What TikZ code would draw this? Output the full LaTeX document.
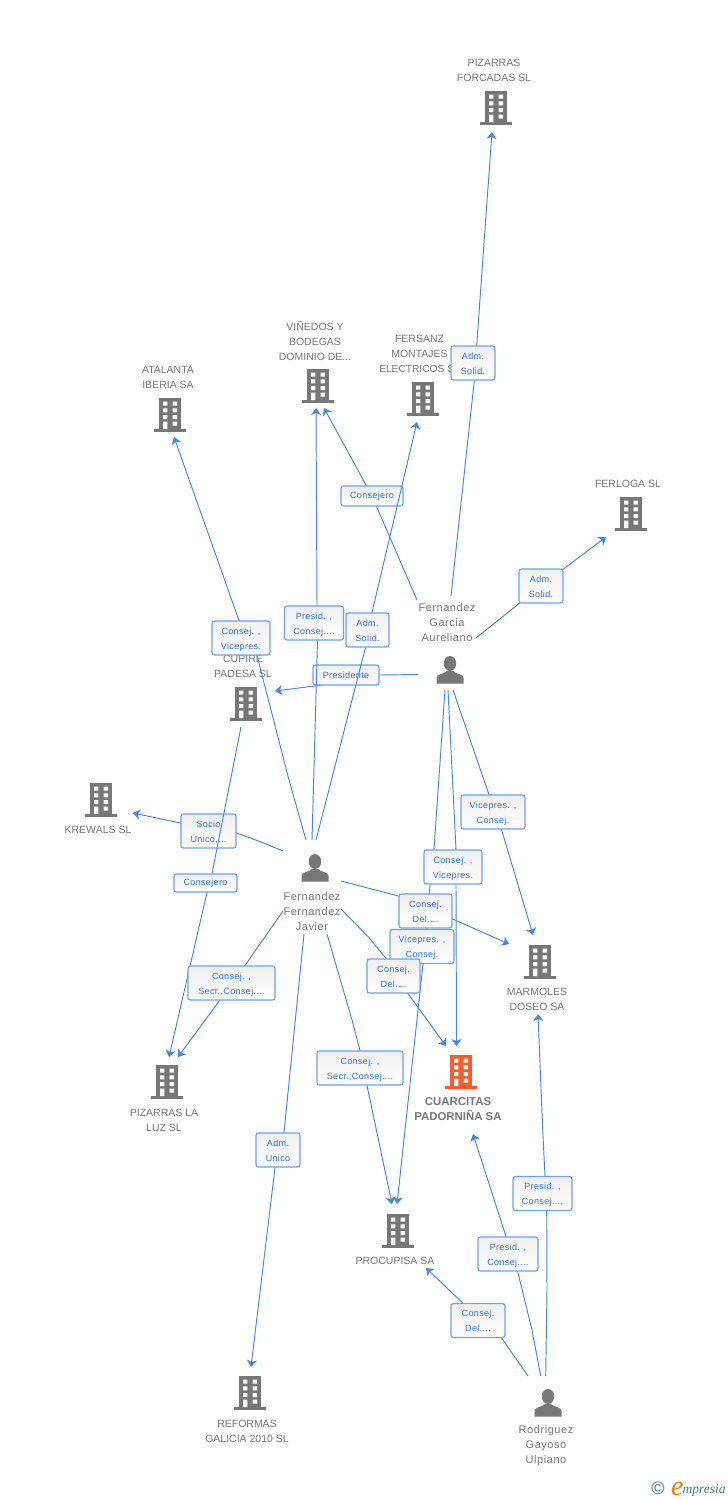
\documentclass[tikz,border=0pt]{standalone}
\usepackage{fontspec}
\setmainfont{Liberation Sans}
\newfontfamily\boxfont[LetterSpace=4]{Liberation Sans}
\newfontfamily\persfont[LetterSpace=5]{Liberation Sans}
\newfontfamily\logofont{Liberation Serif}
\usetikzlibrary{arrows.meta,backgrounds}
\pgfdeclarelayer{boxlow}
\pgfdeclarelayer{edgehigh}
\pgfsetlayers{background,boxlow,edgehigh,main}
\definecolor{linkc}{HTML}{4787E3}
\definecolor{boxline}{HTML}{6FA0E8}
\definecolor{boxtext}{HTML}{2F74D8}
\definecolor{greyc}{HTML}{777777}
\definecolor{hotc}{HTML}{FF5A2B}
\definecolor{logoc}{HTML}{3F7F96}
\definecolor{logoe}{HTML}{F07A10}
\tikzset{
  x=1pt,y=-1pt,
  link/.style={draw=linkc,line width=0.95pt,line join=round,-{Stealth[length=7pt,width=10pt,inset=2pt]}},
  linkbox/.style={draw=boxline,line width=1.1pt,rounded corners=2.5pt,top color=black!6,bottom color=white,
    align=center,inner sep=0pt,text=boxtext,font=\boxfont\fontsize{9}{15}\selectfont},
  two/.style={minimum height=34pt},
  one/.style={minimum height=20pt},
  entlabel/.style={align=center,inner sep=0pt,text=greyc,font=\fontsize{10.5}{15}\selectfont},
  perlabel/.style={align=center,inner sep=0pt,text=greyc,font=\persfont\fontsize{11}{15}\selectfont},
  hotlabel/.style={align=center,inner sep=0pt,text=greyc,font=\bfseries\fontsize{11.4}{15}\selectfont},
  iconbox/.style={inner sep=0pt,minimum width=32pt,minimum height=34pt},
  pics/bld/.style={code={
    \fill[#1] (-11,-17) rectangle (11,15);
    \fill[#1] (-16,14) rectangle (16,17);
    \fill[white] (-7,-13.3) rectangle (-2.7,-9.3) (2.5,-13.3) rectangle (7,-9.3);
    \fill[white] (-7,-6.7) rectangle (-2.7,-2.7) (2.5,-6.7) rectangle (7,-2.7);
    \fill[white] (-7,0) rectangle (-2.7,4) (2.5,0) rectangle (7,4);
    \fill[white] (-7,6.7) rectangle (-2.7,14) (2.5,6.7) rectangle (7,10.7);
  }},
  pics/pers/.style={code={
    \fill[greyc] (0,-6.5) ellipse [x radius=6.2,y radius=7.5];
    \fill[greyc] (-13.5,13.5) -- (-13.5,8) .. controls (-13.5,3.5) and (-6,4.5) .. (-3,1)
      -- (3,1) .. controls (6,4.5) and (13.5,3.5) .. (13.5,8) -- (13.5,13.5) -- cycle;
  }}
}
\newcommand{\bldg}[4][greyc]{\node[iconbox] (#2) at (#3,#4) {}; \pic at (#3,#4) {bld=#1};}
\newcommand{\persn}[3]{\node[iconbox] (#1) at (#2,#3) {}; \pic at (#2,#3) {pers};}
\newcommand{\twolines}[2]{\makebox[0pt]{\raisebox{4pt}[0pt][0pt]{#1}}\makebox[0pt]{\raisebox{-11pt}[0pt][0pt]{#2}}}
\begin{document}
\begin{tikzpicture}
\useasboundingbox (0,0) rectangle (728,1500);
\begin{pgfonlayer}{background}
\fill[white] (0,0) rectangle (728,1500);
\end{pgfonlayer}

% entities
\bldg{forcadas}{496}{108}
\bldg{vinedos}{318}{386}
\bldg{fersanz}{423}{399}
\bldg{atalanta}{170}{415}
\bldg{ferloga}{631}{514}
\bldg{cupire}{246}{704}
\bldg{krewals}{101}{800}
\bldg{marmoles}{540}{962}
\bldg[hotc]{cuarcitas}{461}{1072}
\bldg{luz}{167}{1082}
\bldg{procupisa}{398}{1231}
\bldg{reformas}{250}{1393}
\persn{aureliano}{450}{670}
\persn{javier}{315}{868}
\persn{ulpiano}{548}{1403}

\node[entlabel] (tforcadas) at (494,70.5) {PIZARRAS\\FORCADAS SL};
\node[entlabel] (tvinedos) at (315,341) {VIÑEDOS Y\\BODEGAS\\DOMINIO DE...};
\node[entlabel] (tfersanz) at (419.5,354) {FERSANZ\\MONTAJES\\{\fontsize{10.2}{15}\selectfont ELECTRICOS SL}};
\node[entlabel] (tatalanta) at (168,377.5) {ATALANTA\\IBERIA SA};
\node[entlabel] (tferloga) at (628,484) {FERLOGA SL};
\node[entlabel] (tcupire) at (243,666.5) {CUPIRE\\PADESA SL};
\node[entlabel] (tkrewals) at (98,830) {KREWALS SL};
\node[entlabel] (tmarmoles) at (537,999.5) {MARMOLES\\DOSEO SA};
\node[hotlabel] (tcuarcitas) at (458,1109) {CUARCITAS\\PADORNIÑA SA};
\node[entlabel] (tluz) at (164,1120.5) {PIZARRAS LA\\LUZ SL};
\node[entlabel] (tprocupisa) at (395,1261) {PROCUPISA SA};
\node[entlabel] (treformas) at (247,1431.5) {REFORMAS\\GALICIA 2010 SL};
\node[perlabel] (taureliano) at (447,623) {Fernandez\\Garcia\\Aureliano};
\node[perlabel] (tjavier) at (312,912) {Fernandez\\Fernandez\\Javier};
\node[perlabel] (tulpiano) at (546,1446) {Rodriguez\\Gayoso\\Ulpiano};

% link labels
\node[linkbox,two,minimum width=44pt] (l1) at (473,363) {\twolines{Adm.}{Solid.}};
\node[linkbox,two,minimum width=44pt] (l3) at (541,586) {\twolines{Adm.}{Solid.}};
\node[linkbox,two,minimum width=58pt] (l4) at (241,638) {\twolines{Consej. ,}{Vicepres.}};
\node[linkbox,two,minimum width=59pt] (l5) at (314,623) {\twolines{Presid. ,}{Consej....}};
\node[linkbox,two,minimum width=43pt] (l6) at (367.5,630) {\twolines{Adm.}{Solid.}};
\node[linkbox,two,minimum width=64pt] (l8) at (493,812) {\twolines{Vicepres. ,}{Consej.}};
\node[linkbox,two,minimum width=58pt] (l10) at (453,867) {\twolines{Consej. ,}{Vicepres.}};
\node[linkbox,one,minimum width=63pt,minimum height=18pt] (l11) at (205.5,883) {Consejero};
\node[linkbox,two,minimum width=64pt] (l13) at (422,946.5) {\twolines{Vicepres. ,}{Consej.}};
\node[linkbox,two,minimum width=53pt] (l12) at (425.5,911) {\twolines{Consej.}{Del....}};
\node[linkbox,two,minimum width=53pt] (l14) at (393.5,976) {\twolines{Consej.}{Del....}};
\node[linkbox,two,minimum width=87pt] (l15) at (231.5,983) {\twolines{Consej. ,}{Secr.,Consej....}};
\node[linkbox,two,minimum width=86pt] (l16) at (360,1068) {\twolines{Consej. ,}{Secr.,Consej....}};
\node[linkbox,two,minimum width=44pt] (l17) at (278,1150) {\twolines{Adm.}{Unico}};
\node[linkbox,two,minimum width=59pt] (l18) at (542.5,1193.5) {\twolines{Presid. ,}{Consej....}};
\node[linkbox,two,minimum width=60pt] (l19) at (508,1254) {\twolines{Presid. ,}{Consej....}};
\node[linkbox,two,minimum width=54pt] (l20) at (478,1320.5) {\twolines{Consej.}{Del....}};
% labels that other connectors run across
\begin{pgfonlayer}{boxlow}
\node[linkbox,one,minimum width=62pt] (l2) at (372,496) {Consejero};
\node[linkbox,one,minimum width=66pt] (l7) at (346,675) {Presidente};
\node[linkbox,two,minimum width=55pt] (l9) at (208.5,831) {\twolines{Socio}{Único,...}};
\end{pgfonlayer}

% free ends and bends of the connectors
\coordinate (a1) at (451,596);   \coordinate (b1) at (483.5,250); \coordinate (e1) at (492,132);
\coordinate (a3) at (476,638);   \coordinate (e3) at (606,537);
\coordinate (a2) at (417,600);   \coordinate (e2) at (324,408);
\coordinate (a7) at (418,674.5); \coordinate (e7) at (275,691);
\coordinate (a8) at (453,690);   \coordinate (e8) at (533,935);
\coordinate (a10) at (448,690);  \coordinate (e10) at (456.5,1046);
\coordinate (a13) at (445,690);  \coordinate (e13) at (397,1204);
\coordinate (j4) at (306,840);   \coordinate (b4) at (289,780);   \coordinate (e4) at (174,437);
\coordinate (j5) at (312,840);   \coordinate (e5) at (316,408);
\coordinate (j6) at (316,840);   \coordinate (e6) at (417,422);
\coordinate (j9) at (283,851);   \coordinate (b9) at (260,841.5); \coordinate (e9) at (133,813);
\coordinate (j12) at (341,881);  \coordinate (e12) at (509,944);
\coordinate (j14) at (341,909);  \coordinate (b14) at (369,937.5);  \coordinate (e14) at (446,1046);
\coordinate (j15) at (283,911);  \coordinate (e15) at (178,1057);
\coordinate (j16) at (327,934);  \coordinate (b16) at (352,1020); \coordinate (e16) at (392,1204);
\coordinate (j17) at (304,934);  \coordinate (e17) at (251,1367);
\coordinate (c11) at (241,727);  \coordinate (e11) at (169,1057);
\coordinate (r18) at (545.7,1376); \coordinate (b18) at (547,1290); \coordinate (d18) at (542.7,1130); \coordinate (e18) at (538,1014);
\coordinate (r19) at (540.7,1376); \coordinate (b19) at (532,1330); \coordinate (e19) at (473,1134);
\coordinate (r20) at (528,1376); \coordinate (e20) at (426,1268);

% connectors, behind the labels
\begin{pgfonlayer}{background}
\draw[link] (a1) -- ([xshift=1.3pt]l1.south) -- ([xshift=3.7pt]l1.north) -- (b1) -- (e1);
\draw[link] (a3) -- (l3.center) -- (e3);
\draw[link] (a2) -- (l2.center) -- (e2);
\draw[link] (a7) -- (l7.east) -- ([xshift=-28pt]l7.south) -- (e7);
\draw[link] (a8) -- ([xshift=8pt]l8.south) -- ([xshift=-2pt]l8.north) -- (e8);
\draw[link] (a10) -- ([xshift=3pt]l10.north) -- ([xshift=3pt]l10.south) -- (e10);
\draw[link] (a13) -- ([xshift=-19pt]l10.north) -- ([xshift=-23pt]l10.south) -- ([xshift=1.5pt]l12.south) -- ([xshift=1pt]l13.south) -- (e13);
\draw[link] (j4) -- (b4) -- ([xshift=16pt]l4.south) -- ([xshift=-2pt]l4.north) -- (e4);
\draw[link] (j9) -- (b9) -- ([yshift=-2pt]l9.east) -- ([yshift=8pt]l9.west) -- (e9);
\draw[link] (j12) -- ([yshift=15pt]l12.west) -- ([yshift=-8pt]l12.east) -- (e12);
\draw[link] (j14) -- (b14) -- ([xshift=-7.5pt]l14.north) -- ([xshift=14.5pt]l14.south) -- (e14);
\draw[link] (j15) -- ([xshift=13.5pt]l15.north) -- ([xshift=-12pt]l15.south) -- (e15);
\draw[link] (j16) -- (b16) -- (l16.north) -- ([xshift=7pt]l16.south) -- (e16);
\draw[link] (j17) -- ([xshift=6pt]l17.north) -- ([xshift=-3pt]l17.south) -- (e17);
\draw[link] (r18) -- (b18) -- ([xshift=4.2pt]l18.south) -- ([xshift=2.5pt]l18.north) -- (d18) -- (e18);
\draw[link] (r19) -- (b19) -- ([xshift=9.7pt]l19.south) -- ([xshift=-2pt]l19.north) -- (e19);
\draw[link] (r20) -- ([xshift=23.7pt]l20.south) -- ([xshift=-15.3pt]l20.north) -- (e20);
\end{pgfonlayer}

% connectors that run over the labels of the lower layer
\begin{pgfonlayer}{edgehigh}
\draw[link] (j5) -- ([xshift=3.5pt]l5.south) -- ([xshift=3pt]l5.north) -- (e5);
\draw[link] (j6) -- ([xshift=-2pt]l6.south) -- ([xshift=4.5pt]l6.north) -- (e6);
\draw[link] (c11) -- ([xshift=6.5pt]l11.north) -- ([xshift=1.5pt]l11.south) -- (e11);
\end{pgfonlayer}

% logo
\node[inner sep=0pt,text=logoc,font=\fontsize{18}{18}\selectfont] (copy) at (658,1488.5) {©};
\node[inner sep=0pt,anchor=base west,text=logoe,font=\logofont\itshape\fontsize{28}{28}\selectfont] (logoee) at (671,1495) {e};
\node[inner sep=0pt,anchor=base west,text=logoc,font=\logofont\itshape\fontsize{13.5}{13.5}\selectfont] (logot) at (682.5,1493.5) {mpresia};
\end{tikzpicture}
\end{document}
